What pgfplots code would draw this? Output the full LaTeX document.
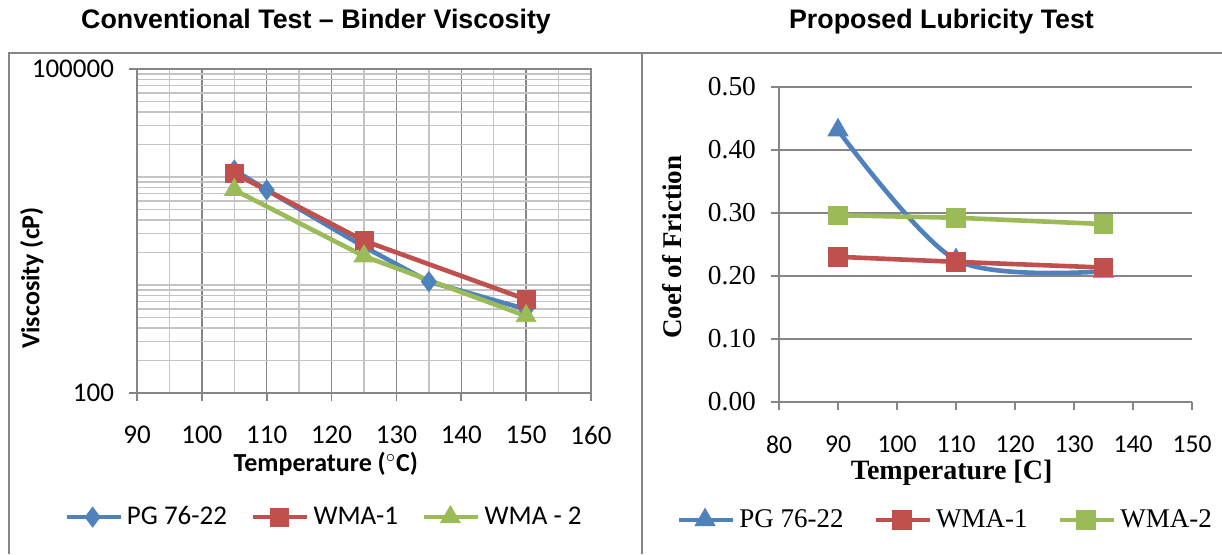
\documentclass[border=0pt]{standalone}
\usepackage{fontspec}
\setmainfont{Liberation Serif}
\newfontfamily\carlito{Carlito}
\newfontfamily\arialf{Liberation Sans}
\usepackage{pgfplots}
\pgfplotsset{compat=1.18}

\definecolor{xblue}{HTML}{4F81BD}
\definecolor{xred}{HTML}{C0504D}
\definecolor{xgreen}{HTML}{9BBB59}
\definecolor{xgrid}{HTML}{868686}
\definecolor{xgridl}{HTML}{C4C4C4}

\pgfplotsset{
  xlline/.style={line width=2.3pt},
  legend image code/.code={\draw[mark repeat=2,mark phase=2,#1]
    plot coordinates {(0pt,0pt)(13pt,0pt)(27pt,0pt)};},
}

\begin{document}
\begin{tikzpicture}
\useasboundingbox (0,0) rectangle (611pt,277pt);
% chart frames
\draw[xgrid, line width=0.9pt] (4.5pt,0) -- (4.5pt,250.5pt) -- (611pt,250.5pt);
\draw[xgrid, line width=0.9pt] (321pt,0) -- (321pt,250.5pt);
\node[font=\arialf\bfseries\fontsize{13.4pt}{16pt}\selectfont] at (158pt,266pt)
  {Conventional Test – Binder Viscosity};
\node[font=\arialf\bfseries\fontsize{13.4pt}{16pt}\selectfont] at (470.75pt,266pt)
  {Proposed Lubricity Test};

% ---- left: binder viscosity (log scale)
\begin{semilogyaxis}[
  at={(68.5pt,80.5pt)}, anchor=south west,
  scale only axis, width=227pt, height=162pt,
  xmin=90, xmax=160, ymin=100, ymax=100000,
  xtick={90,100,...,160}, minor xtick={95,105,...,155},
  ytick={100,100000}, yticklabels={100,100000},
  minor ytick={200,300,400,500,600,700,800,900,1000,
    2000,3000,4000,5000,6000,7000,8000,9000,10000,
    20000,30000,40000,50000,60000,70000,80000,90000},
  grid=both,
  major grid style={xgrid, line width=0.7pt},
  minor grid style={xgridl, line width=0.7pt},
  tick align=outside, tick pos=left,
  major tick length=4pt, minor tick length=0pt,
  axis line style={xgrid, line width=0.9pt},
  tick style={xgrid, line width=0.9pt},
  /pgf/number format/assume math mode=true,
  ticklabel style={font=\carlito\fontsize{13.5pt}{15pt}\selectfont},
  xticklabel style={anchor=center, yshift=-17pt},
  yticklabel style={xshift=-4pt},
  xlabel={Temperature ($^{\circ}$C)},
  ylabel={Viscosity (cP)},
  xlabel style={font=\carlito\bfseries\fontsize{13pt}{15pt}\selectfont,
    at={(axis description cs:0.416,-0.219)}, anchor=center},
  ylabel style={font=\carlito\bfseries\fontsize{13pt}{15pt}\selectfont,
    at={(axis description cs:-0.232,0.355)}, anchor=center},
  legend columns=3,
  legend style={at={(0.414,-0.383)}, anchor=center, draw=none, fill=none,
    font=\carlito\fontsize{13.5pt}{15pt}\selectfont,
    /tikz/every even column/.append style={column sep=10pt}},
]
\addplot[xblue, xlline, mark=diamond*, mark size=5pt,
  mark options={fill=xblue, draw=xblue, line width=0.4pt}]
  coordinates {(105,11600)(110,7590)(125,2260)(135,1075)(150,596)};
\addlegendentry{PG 76-22}
\addplot[xred, xlline, mark=square*, mark size=4.5pt,
  mark options={fill=xred, draw=xred, line width=0.4pt}]
  coordinates {(105,10800)(125,2570)(150,736)};
\addlegendentry{WMA-1}
\addplot[xgreen, xlline, mark=triangle*, mark size=5.7pt,
  mark options={fill=xgreen, draw=xgreen, line width=0.4pt}]
  coordinates {(105,7600)(125,1850)(150,516)};
\addlegendentry{WMA - 2}
\end{semilogyaxis}

% ---- right: lubricity test
\begin{axis}[
  at={(389.5pt,76.15pt)}, anchor=south west,
  scale only axis, width=206.5pt, height=157.5pt,
  xmin=80, xmax=150, ymin=0, ymax=0.5,
  xtick={80,90,...,150}, ytick={0,0.1,...,0.5},
  axis lines*=left,
  ymajorgrids, grid style={xgrid, line width=0.8pt},
  tick align=outside, tick pos=left,
  major tick length=4pt,
  axis line style={xgrid, line width=0.9pt},
  tick style={xgrid, line width=0.9pt},
  /pgf/number format/assume math mode=true,
  xticklabel style={font=\carlito\fontsize{12.8pt}{15pt}\selectfont,
    anchor=center, yshift=-17.5pt},
  yticklabel style={font=\rmfamily\fontsize{13.7pt}{16pt}\selectfont,
    xshift=-4pt,
    /pgf/number format/.cd, fixed, fixed zerofill, precision=2},
  xlabel={Temperature [C]},
  ylabel={Coef of Friction},
  xlabel style={font=\rmfamily\bfseries\fontsize{14pt}{16pt}\selectfont,
    at={(axis description cs:0.418,-0.226)}, anchor=center},
  ylabel style={font=\rmfamily\bfseries\fontsize{13.5pt}{16pt}\selectfont,
    at={(axis description cs:-0.258,0.49)}, anchor=center},
  legend columns=3,
  legend style={at={(0.405,-0.3756)}, anchor=center, draw=none, fill=none,
    font=\rmfamily\fontsize{13.5pt}{15pt}\selectfont,
    /tikz/every even column/.append style={column sep=13pt}},
]
\addplot[xblue, xlline, smooth, mark=triangle*, mark size=5.8pt,
  mark options={fill=xblue, draw=xblue, line width=0.4pt}]
  coordinates {(90,0.431)(110,0.225)(135,0.207)};
\addlegendentry{PG 76-22}
\addplot[xred, xlline, mark=square*, mark size=4.6pt,
  mark options={fill=xred, draw=xred, line width=0.4pt}]
  coordinates {(90,0.230)(110,0.222)(135,0.213)};
\addlegendentry{WMA-1}
\addplot[xgreen, xlline, mark=square*, mark size=4.6pt,
  mark options={fill=xgreen, draw=xgreen, line width=0.4pt}]
  coordinates {(90,0.296)(110,0.292)(135,0.282)};
\addlegendentry{WMA-2}
\end{axis}
\end{tikzpicture}
\end{document}
